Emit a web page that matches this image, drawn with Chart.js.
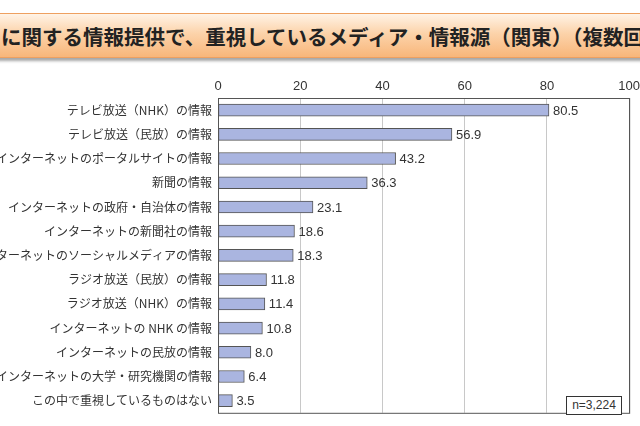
<!DOCTYPE html>
<html lang="ja">
<head>
<meta charset="utf-8">
<script src="https://cdn.jsdelivr.net/npm/chart.js@4"></script>
<style>
    html, body { margin: 0; padding: 0; background: #fff; overflow: hidden; width: 640px; height: 426px; }
    .banner {
        position: absolute; left: -8px; top: 13px; width: 660px; height: 43px;
        border: 1.5px solid #eea060; border-radius: 7px;
        background: linear-gradient(#fff3e6, #fcd3aa 45%, #f8b67a);
        box-shadow: 0 3px 3px rgba(0,0,0,0.35);
        overflow: hidden; white-space: nowrap;
    }
    .banner span {
        position: absolute; left: 8px; top: 7px;
        font-family: "Noto Sans CJK JP"; font-weight: 700; font-size: 20.5px; color: #222;
    }
    #wrap { position: absolute; left: -40px; top: 64px; width: 684px; height: 362px; }
    .n-box {
        position: absolute; left: 566px; top: 396px; width: 54px; height: 17px;
        border: 1px solid #333; background: #fff;
        font-family: "Liberation Sans"; font-size: 12px; color: #333;
        line-height: 17px; text-align: center;
    }
</style>
</head>
<body>
<div class="banner"><span>に関する情報提供で、重視しているメディア・情報源（関東）（複数回答）</span></div>
<div id="wrap"><canvas id="media-chart"></canvas></div>
<div class="n-box">n=3,224</div>
<script>
const categories = [
    'テレビ放送（NHK）の情報',
    'テレビ放送（民放）の情報',
    'インターネットのポータルサイトの情報',
    '新聞の情報',
    'インターネットの政府・自治体の情報',
    'インターネットの新聞社の情報',
    'インターネットのソーシャルメディアの情報',
    'ラジオ放送（民放）の情報',
    'ラジオ放送（NHK）の情報',
    'インターネットの NHK の情報',
    'インターネットの民放の情報',
    'インターネットの大学・研究機関の情報',
    'この中で重視しているものはない'
];
const values = [80.5, 56.9, 43.2, 36.3, 23.1, 18.6, 18.3, 11.8, 11.4, 10.8, 8.0, 6.4, 3.5];
const xTicks = [0, 20, 40, 60, 80, 100];

// marco del área de datos
const frame = {
    id: 'frame',
    beforeDatasetsDraw(chart) {
        const { ctx, chartArea: a } = chart;
        ctx.save();
        ctx.strokeStyle = '#555';
        ctx.lineWidth = 1;
        ctx.strokeRect(a.left + 0.5, a.top + 0.5, a.right - a.left, a.bottom - a.top);
        ctx.restore();
    }
};

// etiquetas con el valor al final de cada barra
const valueLabels = {
    id: 'valueLabels',
    afterDatasetsDraw(chart) {
        const { ctx } = chart;
        const meta = chart.getDatasetMeta(0);
        ctx.save();
        ctx.font = '13px "Liberation Sans"';
        ctx.fillStyle = '#333';
        ctx.textAlign = 'left';
        ctx.textBaseline = 'middle';
        meta.data.forEach((bar, i) => {
            ctx.fillText(values[i].toFixed(1), bar.x + 4, bar.y + 1);
        });
        ctx.restore();
    }
};

new Chart(document.getElementById('media-chart'), {
    type: 'bar',
    data: {
        labels: categories,
        datasets: [{
            data: values,
            backgroundColor: '#aab5e0',
            borderColor: '#555',
            borderWidth: 1,
            borderSkipped: false,
            barThickness: 12
        }]
    },
    options: {
        indexAxis: 'y',
        responsive: true,
        maintainAspectRatio: false,
        animation: false,
        layout: { padding: { top: 0, right: 11, bottom: 8, left: 0 } },
        plugins: {
            legend: { display: false },
            tooltip: { enabled: false }
        },
        scales: {
            x: {
                position: 'top',
                min: 0,
                max: 100,
                afterBuildTicks: (scale) => { scale.ticks = xTicks.map(v => ({ value: v })); },
                afterFit: (scale) => { scale.height = 34; },
                grid: {
                    drawTicks: false,
                    color: (c) => (c.tick && (c.tick.value === 0 || c.tick.value === 100)) ? '#555' : '#c8c8c8'
                },
                border: { display: false },
                ticks: {
                    padding: 4,
                    color: '#333',
                    font: { family: 'Liberation Sans', size: 13 }
                }
            },
            y: {
                afterFit: (scale) => { scale.width = 258; },
                grid: { display: false, drawTicks: false },
                border: { display: false },
                ticks: {
                    padding: 6,
                    color: '#333',
                    autoSkip: false,
                    font: { family: 'Noto Sans CJK JP', size: 12 }
                }
            }
        }
    },
    plugins: [frame, valueLabels]
});
</script>
</body>
</html>
